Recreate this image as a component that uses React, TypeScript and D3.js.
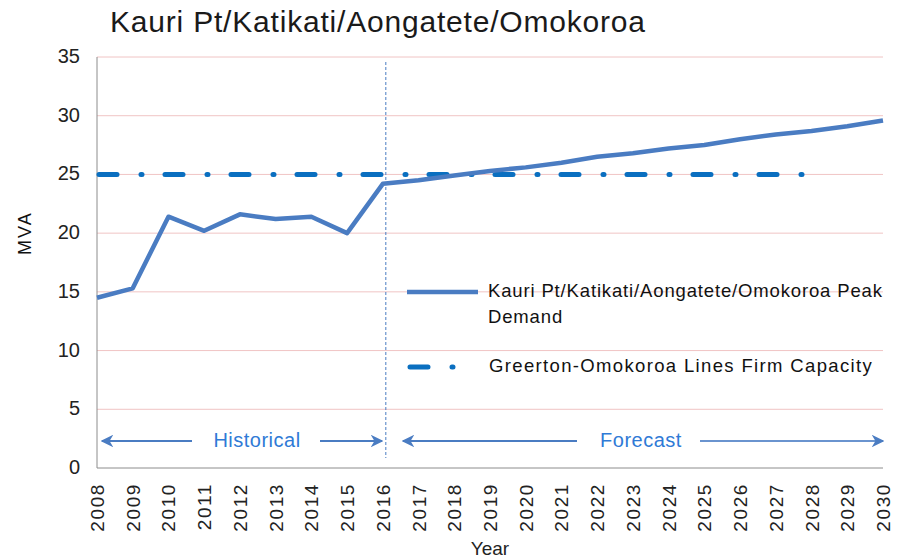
import * as d3 from "d3";

const years = d3.range(2008, 2031);
const peakDemand = [
  14.5, 15.3, 21.4, 20.2, 21.6, 21.2, 21.4, 20.0, 24.2, 24.5, 24.9, 25.3, 25.6,
  26.0, 26.5, 26.8, 27.2, 27.5, 28.0, 28.4, 28.7, 29.1, 29.6,
];
const capacityYears = [2008, 2028];
const firmCapacity = 25;
const yTicks = [0, 5, 10, 15, 20, 25, 30, 35];

const width = 904;
const height = 560;
const marginLeft = 97;
const marginRight = 21;
const marginTop = 57;
const plotBottom = 468;

const demandColor = "#4a7cc2";
const capColor = "#0a6fc0";
const font = "'Liberation Sans', Arial, sans-serif";

export default function App() {
  const x = d3
    .scaleLinear()
    .domain([2008, 2030])
    .range([marginLeft, width - marginRight]);
  const y = d3.scaleLinear().domain([0, 35]).range([plotBottom, marginTop]);

  const line = d3
    .line<number>()
    .x((_, i) => x(years[i]))
    .y((d) => y(d));

  const splitX = x(2016) + 3;
  const arrowY = 441;

  return (
    <svg
      width={width}
      height={height}
      style={{ position: "absolute", left: 0, top: 0, background: "#fff" }}
      fontFamily={font}
    >
      <defs>
        <marker
          id="arr"
          viewBox="0 0 10 10"
          refX="9"
          refY="5"
          markerWidth="7"
          markerHeight="7"
          orient="auto-start-reverse"
        >
          <path d="M0,0 L10,5 L0,10 L3,5 Z" fill="#4a7cc2" />
        </marker>
      </defs>

      <text x={110} y={32} fontSize={30} letterSpacing={0.8} fill="#1a1a1a">
        Kauri Pt/Katikati/Aongatete/Omokoroa
      </text>

      {/* grid */}
      {yTicks.slice(1).map((t) => (
        <line
          key={t}
          x1={marginLeft}
          x2={width - marginRight}
          y1={y(t)}
          y2={y(t)}
          stroke="#f0c4c4"
          strokeWidth={1}
        />
      ))}

      {/* axes */}
      <line x1={marginLeft} x2={marginLeft} y1={marginTop} y2={plotBottom} stroke="#8c8c8c" />
      <line
        x1={marginLeft}
        x2={width - marginRight}
        y1={plotBottom}
        y2={plotBottom}
        stroke="#8c8c8c"
      />

      {yTicks.map((t) => (
        <text
          key={t}
          x={80}
          y={y(t) + 6}
          fontSize={20}
          textAnchor="end"
          fill="#222"
        >
          {t}
        </text>
      ))}
      <text
        transform={`translate(31,${y(20)}) rotate(-90)`}
        fontSize={18}
        letterSpacing={2}
        textAnchor="middle"
        fill="#111"
      >
        MVA
      </text>

      {years.map((yr) => (
        <text
          key={yr}
          transform={`translate(${x(yr) + 7},483) rotate(-90)`}
          fontSize={19}
          letterSpacing={1.6}
          textAnchor="end"
          fill="#222"
        >
          {yr}
        </text>
      ))}
      <text x={490} y={555} fontSize={19} textAnchor="middle" fill="#222">
        Year
      </text>

      {/* historical / forecast split */}
      <line
        x1={splitX}
        x2={splitX}
        y1={62}
        y2={458}
        stroke={demandColor}
        strokeWidth={1}
        strokeDasharray="3 2"
      />

      {/* capacity */}
      <line
        x1={x(capacityYears[0]) + 2}
        x2={x(capacityYears[1])}
        y1={y(firmCapacity)}
        y2={y(firmCapacity)}
        stroke={capColor}
        strokeWidth={5}
        strokeLinecap="round"
        strokeDasharray="18 24 1 23"
      />

      {/* peak demand */}
      <path
        d={line(peakDemand) ?? ""}
        fill="none"
        stroke={demandColor}
        strokeWidth={4.5}
        strokeLinejoin="round"
      />

      {/* legend */}
      <line x1={407} x2={478} y1={292} y2={292} stroke={demandColor} strokeWidth={4.5} />
      <text x={488} y={297} fontSize={18.5} letterSpacing={0.85} fill="#111">
        Kauri Pt/Katikati/Aongatete/Omokoroa Peak
      </text>
      <text x={488} y={323} fontSize={18.5} letterSpacing={0.85} fill="#111">
        Demand
      </text>
      <line
        x1={410}
        x2={456}
        y1={367}
        y2={367}
        stroke={capColor}
        strokeWidth={5}
        strokeLinecap="round"
        strokeDasharray="18 24 1 23"
      />
      <text x={489} y={372} fontSize={18.5} letterSpacing={1.35} fill="#111">
        Greerton-Omokoroa Lines Firm Capacity
      </text>

      {/* annotations */}
      <line x1={192} x2={102} y1={arrowY} y2={arrowY} stroke="#4a7cc2" strokeWidth={1.8} markerEnd="url(#arr)" />
      <line x1={320} x2={382} y1={arrowY} y2={arrowY} stroke="#4a7cc2" strokeWidth={1.8} markerEnd="url(#arr)" />
      <text x={257} y={447} fontSize={20} letterSpacing={0.5} textAnchor="middle" fill="#2f7ad6">
        Historical
      </text>
      <line x1={577} x2={403} y1={arrowY} y2={arrowY} stroke="#4a7cc2" strokeWidth={1.8} markerEnd="url(#arr)" />
      <line x1={700} x2={883} y1={arrowY} y2={arrowY} stroke="#6a94cf" strokeWidth={1.8} markerEnd="url(#arr)" />
      <text x={641} y={447} fontSize={20} letterSpacing={0.5} textAnchor="middle" fill="#2f7ad6">
        Forecast
      </text>
    </svg>
  );
}
